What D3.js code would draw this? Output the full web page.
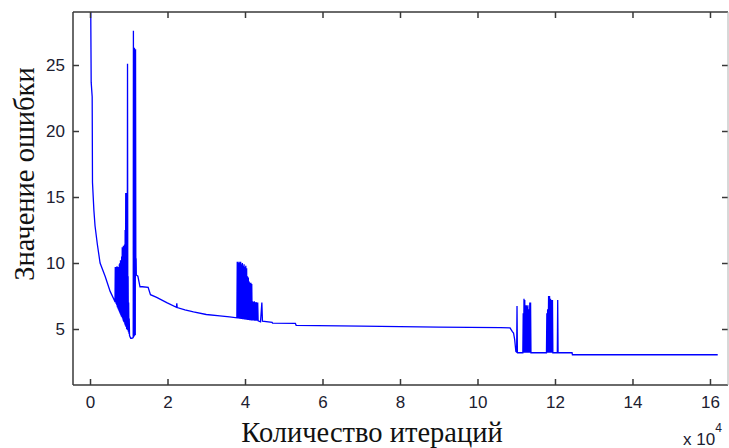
<!DOCTYPE html>
<html><head><meta charset="utf-8">
<script src="https://cdn.jsdelivr.net/npm/d3@7"></script>
<style>
html,body{margin:0;padding:0;background:#fff;}
svg{display:block;}
</style></head>
<body>
<script>
// ---- data: [iteration, error value] ----
const initialDecay = [
  [150,31],[300,23.7],[560,22.6],[640,16.1],[1000,14.0],[1300,12.8],[1900,11.4],
  [2600,10.0],[3900,9.0],[5200,7.85],[6400,7.1]
];
const burst1 = [
  [6450,7.05],[6520,9.7],[6600,7.0],[6670,9.6],[6750,6.9],[6820,9.7],[6900,6.8],[6970,9.75],
  [7050,6.65],[7120,9.6],[7200,6.55],[7270,9.7],[7350,6.45],[7420,9.5],[7500,6.35],[7570,9.9],
  [7650,6.25],[7720,10.0],[7800,6.15],[7870,10.2],[7950,6.05],[8020,10.2],[8100,5.95],[8170,10.5],
  [8250,5.9],[8320,11.2],[8400,5.8],[8470,11.2],[8550,5.65],[8620,11.3],[8700,5.55],[8770,11.2],
  [8850,5.5],[8920,11.4],[9000,5.35],[9070,12.5],[9150,5.25],[9220,15.3],[9300,5.15],[9370,15.3],
  [9450,5.0],[9520,13.0],[9600,4.95],[9680,25.1],[9760,4.9],[9830,9.0],[9900,4.8],[9970,7.0],
  [10050,4.65],[10120,5.8],[10200,4.5],[10500,4.3],[10800,4.3],[11150,4.35],
  [11200,27.6],[11260,4.4],[11330,26.3],[11400,4.45],[11470,26.3],[11540,4.5],[11610,26.2],
  [11680,4.55],[11750,26.2],[11820,10.4],[11900,10.3],[11950,9.1],[12350,9.0]
];
const plateau1 = [
  [12900,8.2],[13500,8.2],[15000,8.15],[15600,7.6],[17200,7.4],[19800,7.0],[22300,6.65],
  [22400,6.95],[22500,6.62],[24500,6.45],[26700,6.3],[30000,6.1],[33500,6.0],[36000,5.92],[37900,5.85]
];
const burst2 = [
  [38000,10.1],[38110,5.8],[38220,10.1],[38330,5.8],[38440,10.0],[38550,5.78],[38660,10.1],
  [38770,5.78],[38880,10.1],[38990,5.76],[39100,9.9],[39210,5.76],[39320,10.0],[39430,5.74],
  [39540,9.8],[39650,5.74],[39760,9.9],[39870,5.72],[39980,9.7],[40090,5.72],[40200,9.8],
  [40310,5.7],[40420,9.6],[40530,5.7],[40640,9.0],[40750,5.68],[40860,8.9],[40970,5.68],
  [41080,8.6],[41190,5.66],[41300,8.5],[41410,5.66],[41520,8.5],[41630,5.65],[41740,8.4],
  [41850,5.65],[41960,7.1],[42070,5.64],[42180,7.05],[42290,5.64],[42400,7.1],[42510,5.63],
  [42620,7.0],[42730,5.63],[42840,7.05],[42950,5.62],[43060,7.0],[43170,5.62],[43280,7.0],
  [43390,5.62],[44000,5.55],[44350,7.0],[44500,5.6]
];
const plateau2 = [
  [47000,5.5],[47100,5.45],[53000,5.42],[53200,5.28],[70000,5.22],[90000,5.14],[106000,5.1],[108400,5.08]
];
const burst3 = [
  [109000,4.8],[109300,4.7],[109600,4.2],[109900,3.3],[110100,3.25],[110200,6.75],[110300,3.2],
  [111700,3.2],[111800,6.2],[111900,3.2],[112000,7.3],[112100,3.2],[112200,7.2],[112300,3.2],
  [112400,6.8],[112500,3.2],[112600,6.8],[112700,3.2],[112800,6.7],[112900,3.2],[113000,6.8],
  [113100,3.2],[113250,6.5],[113350,3.2],[113500,7.0],[113600,3.2],[113700,7.0],[113800,3.2],
  [117800,3.2],[117900,6.2],[118000,3.2],[118100,6.5],[118200,3.2],[118350,7.5],[118450,3.2],
  [118600,7.5],[118700,3.2],[118850,7.3],[118950,3.2],[119100,7.2],[119200,3.2],[119350,7.2],
  [119450,3.2],[120600,3.2],[120700,7.2],[120800,3.2]
];
const finalPlateau = [
  [124400,3.2],[124500,3.05],[162000,3.05]
];
const xTickValues = [0,20000,40000,60000,80000,100000,120000,140000,160000];
const yTickValues = [5,10,15,20,25];
const xTitle = "Количество итераций";
const yTitle = "Значение ошибки";

// ---- layout ----
const W = 729, H = 448;
const plot = {left:73, right:728, top:12, bottom:385};
const xDomain = [-4390, 164650];
const yDomain = [0.758, 29.015];

const svg = d3.select("body").append("svg").attr("width",W).attr("height",H);
svg.append("rect").attr("width",W).attr("height",H).attr("fill","#fff");

const x = d3.scaleLinear().domain(xDomain).range([plot.left, plot.right]);
const y = d3.scaleLinear().domain(yDomain).range([plot.bottom, plot.top]);

svg.append("clipPath").attr("id","clip").append("rect")
  .attr("x",plot.left).attr("y",plot.top)
  .attr("width",plot.right-plot.left).attr("height",plot.bottom-plot.top);

const data = [].concat(initialDecay, burst1, plateau1, burst2, plateau2, burst3, finalPlateau);

svg.append("path")
  .datum(data)
  .attr("clip-path","url(#clip)")
  .attr("fill","none")
  .attr("stroke","#0000ff")
  .attr("stroke-width",1.3)
  .attr("stroke-linejoin","miter")
  .attr("d", d3.line().x(d=>x(d[0])).y(d=>y(d[1])));

const axisColor = "#383838";
const labelFont = "'Liberation Sans', Arial, sans-serif";

function styleAxis(g, showText){
  g.select(".domain").remove();
  g.selectAll(".tick line").attr("stroke",axisColor).attr("stroke-width",1.5);
  g.selectAll(".tick text").attr("fill","#202030").style("font-family",labelFont).style("font-size","17px");
  if(!showText) g.selectAll(".tick text").remove();
}

// bottom
svg.append("g").attr("transform",`translate(0,${plot.bottom})`)
  .call(d3.axisBottom(x).tickValues(xTickValues).tickFormat(d=>d/10000).tickSizeInner(-6).tickSizeOuter(0).tickPadding(11))
  .call(g=>styleAxis(g,true));
// top
svg.append("g").attr("transform",`translate(0,${plot.top})`)
  .call(d3.axisTop(x).tickValues(xTickValues).tickSizeInner(-6).tickSizeOuter(0))
  .call(g=>styleAxis(g,false));
// left
svg.append("g").attr("transform",`translate(${plot.left},0)`)
  .call(d3.axisLeft(y).tickValues(yTickValues).tickSizeInner(-6).tickSizeOuter(0).tickPadding(8))
  .call(g=>styleAxis(g,true));
// right
svg.append("g").attr("transform",`translate(${plot.right},0)`)
  .call(d3.axisRight(y).tickValues(yTickValues).tickSizeInner(-6).tickSizeOuter(0))
  .call(g=>styleAxis(g,false));

// frame lines
const frame = svg.append("g").attr("fill","none");
frame.append("line").attr("x1",plot.left).attr("x2",plot.right).attr("y1",plot.bottom).attr("y2",plot.bottom)
  .attr("stroke",axisColor).attr("stroke-width",1.5);
frame.append("line").attr("x1",plot.left).attr("x2",plot.right).attr("y1",plot.top).attr("y2",plot.top)
  .attr("stroke",axisColor).attr("stroke-width",1.5);
frame.append("line").attr("x1",plot.left).attr("x2",plot.left).attr("y1",plot.top).attr("y2",plot.bottom)
  .attr("stroke",axisColor).attr("stroke-width",1.5);
frame.append("line").attr("x1",plot.right).attr("x2",plot.right).attr("y1",plot.top).attr("y2",plot.bottom)
  .attr("stroke","#b0b0b0").attr("stroke-width",1);

// titles
svg.append("text").attr("x",372).attr("y",442).attr("text-anchor","middle")
  .style("font-family","'Liberation Serif','Times New Roman',serif").style("font-size","28.5px")
  .attr("fill","#111").text(xTitle);
svg.append("text").attr("transform","translate(34,174) rotate(-90)").attr("text-anchor","middle")
  .style("font-family","'Liberation Serif','Times New Roman',serif").style("font-size","28.5px")
  .attr("fill","#111").text(yTitle);

// exponent
const expo = svg.append("text").attr("x",683).attr("y",445)
  .style("font-family",labelFont).style("font-size","17px").attr("fill","#202030");
expo.append("tspan").text("x 10");
expo.append("tspan").attr("dy",-13).style("font-size","12px").text("4");
</script>
</body></html>
